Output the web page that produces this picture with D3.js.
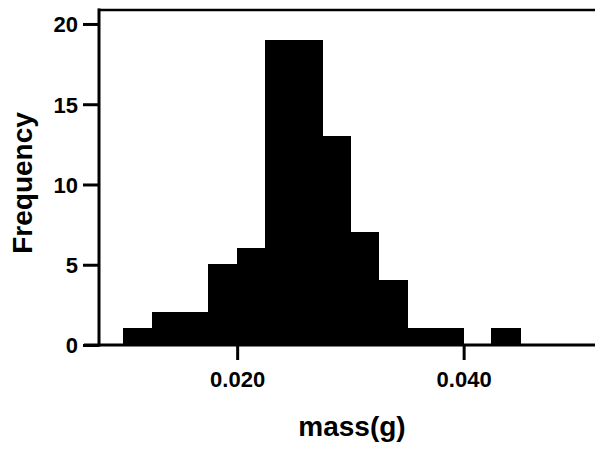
<!DOCTYPE html>
<html>
<head>
<meta charset="utf-8">
<script src="https://cdn.jsdelivr.net/npm/d3@7"></script>
<style>
  body { margin: 0; background: #fff; }
  text { font-family: "Liberation Sans", Arial, sans-serif; font-weight: bold; fill: #000; }
</style>
</head>
<body>
<script>
const width = 595, height = 451;

// histogram bins (lower edge, g) and counts
const binStarts = [0.0100, 0.0125, 0.0150, 0.0175, 0.0200, 0.0225, 0.0250, 0.0275, 0.0300, 0.0325, 0.0350, 0.0375, 0.0400, 0.0425];
const counts    = [1, 2, 2, 5, 6, 19, 19, 13, 7, 4, 1, 1, 0, 1];
const binWidth = 0.0025;
const xTicks = [0.020, 0.040];
const yTicks = [0, 5, 10, 15, 20];

const svg = d3.select("body").append("svg").attr("width", width).attr("height", height);

const x = d3.scaleLinear().domain([0.0078, 0.0516]).range([99, 595]);
const y = d3.scaleLinear().domain([0, 20.87]).range([345, 10]);

const bins = binStarts.map((s, i) => ({ x0: s, x1: s + binWidth, n: counts[i] }));

// bars (black stroke + crisp edges hide the seams between neighbours)
svg.append("g")
    .attr("shape-rendering", "crispEdges")
    .selectAll("rect")
    .data(bins.filter(d => d.n > 0))
    .enter().append("rect")
    .attr("x", d => x(d.x0))
    .attr("y", d => y(d.n))
    .attr("width", d => x(d.x1) - x(d.x0))
    .attr("height", d => y(0) - y(d.n))
    .attr("fill", "#000")
    .attr("stroke", "#000")
    .attr("stroke-width", 1);

// top frame line
svg.append("line")
    .attr("x1", 98).attr("x2", width)
    .attr("y1", 10).attr("y2", 10)
    .attr("stroke", "#000").attr("stroke-width", 2.5);

// y axis
const yAxis = svg.append("g")
    .attr("transform", "translate(99,0)")
    .call(d3.axisLeft(y).tickValues(yTicks).tickSize(16).tickPadding(5).tickFormat(d3.format("d")));
yAxis.select(".domain").attr("stroke-width", 3).attr("d", "M0,8.5V346.5");
yAxis.selectAll(".tick line").attr("stroke-width", 3);
yAxis.selectAll(".tick text").attr("font-size", 22).attr("dy", "0.36em");

// x axis
const xAxis = svg.append("g")
    .attr("transform", "translate(0,345)")
    .call(d3.axisBottom(x).tickValues(xTicks).tickSize(15).tickPadding(11).tickFormat(d3.format(".3f")));
xAxis.select(".domain").attr("stroke-width", 3).attr("d", "M84,0H595");
xAxis.selectAll(".tick line").attr("stroke-width", 3);
xAxis.selectAll(".tick text").attr("font-size", 22);

// axis titles
svg.append("text")
    .attr("x", 352).attr("y", 436)
    .attr("text-anchor", "middle")
    .attr("font-size", 28)
    .text("mass(g)");

svg.append("text")
    .attr("transform", "translate(32,183) rotate(-90)")
    .attr("text-anchor", "middle")
    .attr("font-size", 28)
    .text("Frequency");
</script>
</body>
</html>
